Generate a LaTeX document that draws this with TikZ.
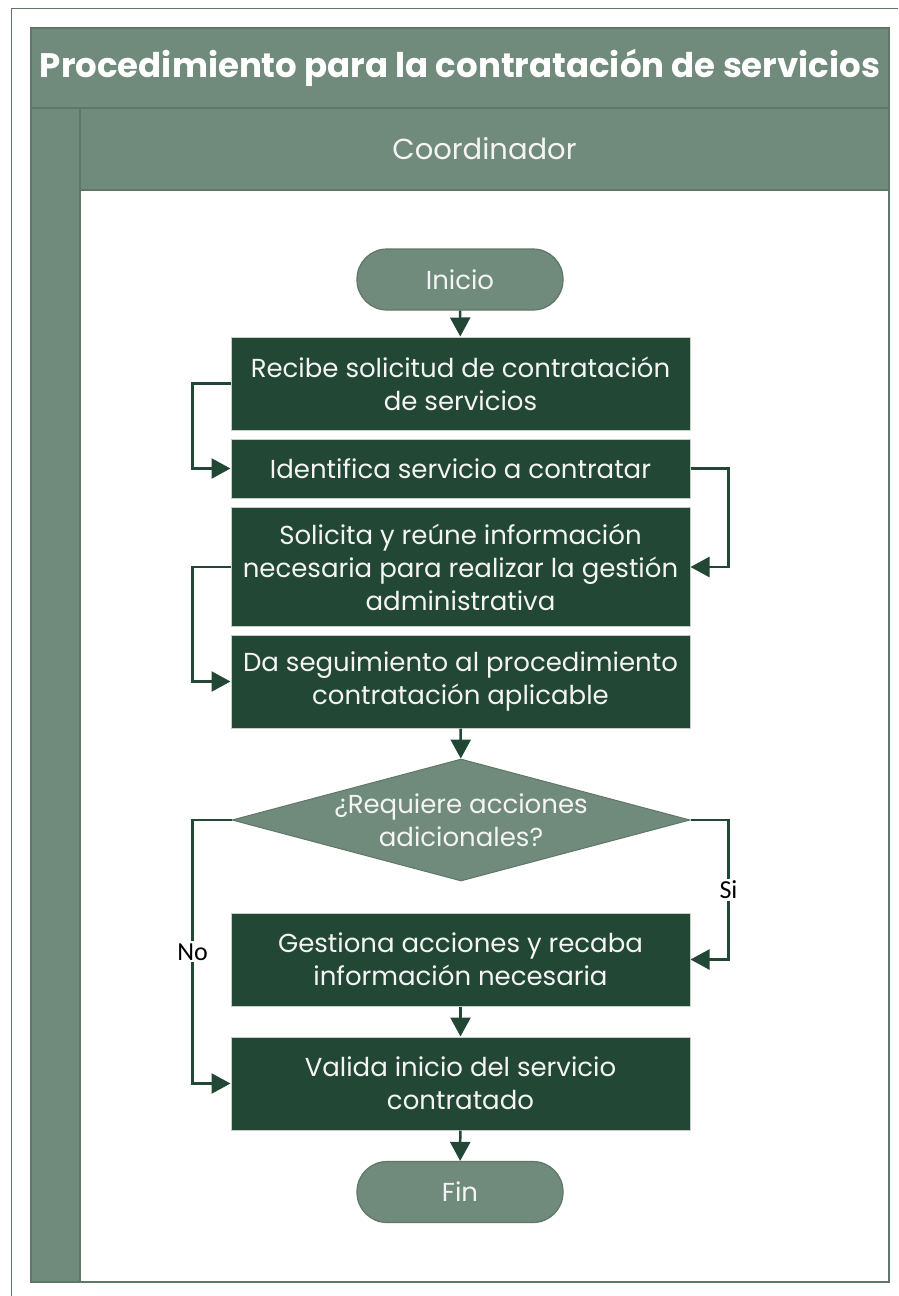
\documentclass[tikz,border=0pt]{standalone}
\usepackage{fontspec}
\setmainfont{Poppins}
\newfontfamily\lblfont{Carlito}
\usepackage{tikz}
\usetikzlibrary{shapes.geometric, positioning, arrows.meta}
\definecolor{poolgreen}{HTML}{708A7B}
\definecolor{poolline}{HTML}{5F7767}
\definecolor{boxgreen}{HTML}{234735}
\definecolor{boxline}{HTML}{C9CCCA}
\definecolor{boxtext}{HTML}{F4F4F4}
\tikzset{
  procbox/.style={rectangle, fill=boxgreen, draw=boxline, line width=1pt, text=boxtext,
    align=center, minimum width=459pt, inner sep=0pt, font=\fontsize{26}{33}\selectfont},
  termbox/.style={rectangle, rounded corners=30pt, fill=poolgreen, draw=poolline, line width=1.2pt,
    text=boxtext, minimum width=206pt, minimum height=61pt, font=\fontsize{26}{33}\selectfont},
  decisionbox/.style={diamond, fill=poolgreen, draw=poolline, line width=1pt, inner sep=0pt,
    minimum width=458pt, minimum height=122pt},
  flow/.style={draw=boxgreen, line width=2.5pt, -{Triangle[length=19pt,width=20pt]}},
  yesno/.style={fill=white, inner sep=2pt, text=black, font=\lblfont\fontsize{26}{30}\selectfont}
}
\begin{document}
\begin{tikzpicture}[x=1pt,y=-1pt]
\useasboundingbox (0,0) rectangle (898,1296);
\draw[poolline, line width=1pt] (11,1296) -- (11,8) -- (898,8);
\node[rectangle, fill=poolgreen, draw=poolline, line width=2pt, minimum width=858pt, minimum height=80pt,
  text=white, font=\bfseries\fontsize{34}{40}\selectfont] (titulo) at (460,68) {Procedimiento para la contratación de servicios};
\draw[fill=poolgreen, draw=poolline, line width=2pt] (31,108) rectangle (80,1282);
\draw[fill=white, draw=poolline, line width=2pt] (80,190) rectangle (889,1282);
\node[rectangle, fill=poolgreen, draw=poolline, line width=2pt, minimum width=809pt, minimum height=82pt,
  text=boxtext, font=\fontsize{29}{34}\selectfont] (carril) at (484.5,149) {Coordinador};

\node[termbox] (inicio) at (460,279.5) {Inicio};
\node[procbox, minimum height=93pt] (recibe) at (460.5,383.5) {Recibe solicitud de contratación\\de servicios};
\node[procbox, minimum height=59pt] (identifica) at (460.5,468.5) {Identifica servicio a contratar};
\node[procbox, minimum height=119pt] (solicita) at (460.5,567) {Solicita y reúne información\\necesaria para realizar la gestión\\administrativa};
\node[procbox, minimum height=93pt] (seguimiento) at (460.5,681.5) {Da seguimiento al procedimiento\\contratación aplicable};
\node[decisionbox, label={[text=boxtext, align=center, font=\fontsize{26}{33}\selectfont]center:{¿Requiere acciones\\adicionales?}}] (requiere) at (461,820) {};
\node[procbox, minimum height=93pt] (gestiona) at (460.5,959.5) {Gestiona acciones y recaba\\información necesaria};
\node[procbox, minimum height=93pt] (valida) at (460.5,1083.5) {Valida inicio del servicio\\contratado};
\node[termbox] (fin) at (460,1192) {Fin};

\draw[flow] (inicio) -- (recibe);
\draw[flow] (recibe.west) -- ++(-38,0) |- (identifica.west);
\draw[flow] (identifica.east) -- ++(38,0) |- (solicita.east);
\draw[flow] (solicita.west) -- ++(-38,0) |- (seguimiento.west);
\draw[flow] (seguimiento) -- (requiere);
\draw[flow] (requiere.west) -- ++(-39,0) |- node[yesno, pos=0.25] {No} (valida.west);
\draw[flow] (requiere.east) -- ++(38,0) |- node[yesno, pos=0.25] {Si} (gestiona.east);
\draw[flow] (gestiona) -- (valida);
\draw[flow] (valida) -- (fin);
\end{tikzpicture}
\end{document}
